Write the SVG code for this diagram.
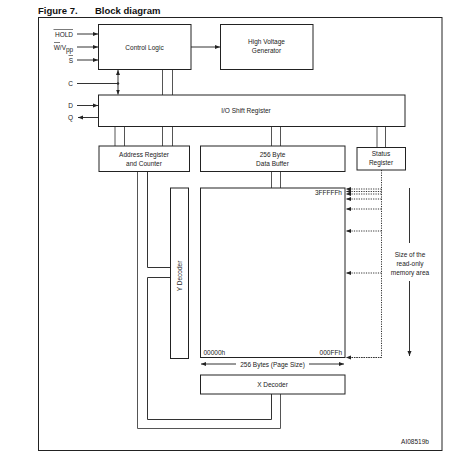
<svg xmlns="http://www.w3.org/2000/svg" width="465" height="462" viewBox="0 0 465 462">
<style>
.box{fill:#fff;stroke:#222;stroke-width:1}
.ln{fill:none;stroke:#333;stroke-width:1}
.gl{fill:none;stroke:#555;stroke-width:1}
.dot{fill:none;stroke:#333;stroke-width:1;stroke-dasharray:1.2 1.2}
.t{font-family:"Liberation Sans",Arial,sans-serif;font-size:6.5px;fill:#222}
.c{text-anchor:middle}
.e{text-anchor:end}
.title{font-family:"Liberation Sans",Arial,sans-serif;font-size:9.5px;font-weight:bold;fill:#111}
</style>
<defs>
<marker id="ah" viewBox="0 0 10 10" refX="10" refY="5" markerWidth="5" markerHeight="5" orient="auto-start-reverse" markerUnits="userSpaceOnUse">
<path d="M0,1 L10,5 L0,9 z" fill="#222"/>
</marker>
</defs>
<rect width="465" height="462" fill="#fff"/>
<text class="title" x="38" y="14">Figure 7.</text>
<text class="title" x="95" y="14">Block diagram</text>
<rect x="38.5" y="17.5" width="403.5" height="433" fill="none" stroke="#222" stroke-width="1"/>

<g id="connectors">
<line class="ln" x1="77" y1="34" x2="98" y2="34" marker-end="url(#ah)"/>
<line class="ln" x1="77" y1="47" x2="98" y2="47" marker-end="url(#ah)"/>
<line class="ln" x1="77" y1="60" x2="98" y2="60" marker-end="url(#ah)"/>
<line class="ln" x1="77" y1="83.5" x2="118" y2="83.5"/>
<circle cx="118" cy="83.5" r="1.2" fill="#222"/>
<line class="ln" x1="118" y1="70" x2="118" y2="94.5" marker-start="url(#ah)" marker-end="url(#ah)"/>
<line class="ln" x1="77" y1="105.5" x2="98" y2="105.5" marker-end="url(#ah)"/>
<line class="ln" x1="98" y1="117.5" x2="78" y2="117.5" marker-end="url(#ah)"/>
<line class="ln" x1="191" y1="47" x2="220" y2="47" marker-end="url(#ah)"/>
<line class="gl" x1="162.5" y1="69.5" x2="162.5" y2="95"/>
<line class="gl" x1="172.5" y1="69.5" x2="172.5" y2="95"/>
<line class="gl" x1="115" y1="126.5" x2="115" y2="146"/>
<line class="gl" x1="124.5" y1="126.5" x2="124.5" y2="146"/>
<line class="gl" x1="162.5" y1="126.5" x2="162.5" y2="146"/>
<line class="gl" x1="172.5" y1="126.5" x2="172.5" y2="146"/>
<line class="gl" x1="271.5" y1="126.5" x2="271.5" y2="146"/>
<line class="gl" x1="280.5" y1="126.5" x2="280.5" y2="146"/>
<line class="gl" x1="377" y1="126.5" x2="377" y2="147.5"/>
<line class="gl" x1="385.5" y1="126.5" x2="385.5" y2="147.5"/>
<line class="gl" x1="271.5" y1="171.5" x2="271.5" y2="188"/>
<line class="gl" x1="280.5" y1="171.5" x2="280.5" y2="188"/>
<polyline class="gl" points="137.5,171.5 137.5,428.5 280.5,428.5 280.5,394"/>
<polyline class="ln" points="147.5,171.5 147.5,267.5 170.5,267.5"/>
<polyline class="ln" points="170.5,277.5 147.5,277.5 147.5,419.5 271.5,419.5 271.5,394"/>
<polyline class="dot" points="381.5,170 381.5,357.5 346,357.5"/>
<line class="dot" x1="381.5" y1="189" x2="346" y2="189" marker-end="url(#ah)"/>
<line class="dot" x1="381.5" y1="191.5" x2="346" y2="191.5" marker-end="url(#ah)"/>
<line class="dot" x1="381.5" y1="194" x2="346" y2="194" marker-end="url(#ah)"/>
<line class="dot" x1="381.5" y1="199" x2="346" y2="199" marker-end="url(#ah)"/>
<line class="dot" x1="381.5" y1="209" x2="346" y2="209" marker-end="url(#ah)"/>
<line class="dot" x1="381.5" y1="231" x2="346" y2="231" marker-end="url(#ah)"/>
<line class="dot" x1="381.5" y1="273" x2="346" y2="273" marker-end="url(#ah)"/>
<line class="dot" x1="381.5" y1="357.5" x2="346" y2="357.5" marker-end="url(#ah)"/>
<line class="ln" x1="409.5" y1="188" x2="409.5" y2="243"/>
<line class="ln" x1="409.5" y1="281" x2="409.5" y2="356" marker-end="url(#ah)"/>
<line class="ln" x1="236" y1="364" x2="201" y2="364" marker-end="url(#ah)"/>
<line class="ln" x1="309" y1="364" x2="344" y2="364" marker-end="url(#ah)"/>
</g>

<g id="inputs">
<text class="t e" x="73" y="36.5">HOLD</text>
<line x1="53.5" y1="29.5" x2="73" y2="29.5" stroke="#222" stroke-width="0.6"/>
<text class="t e" x="66" y="49.5">W/V</text>
<line x1="54" y1="42.5" x2="60" y2="42.5" stroke="#222" stroke-width="0.6"/>
<text class="t" x="66" y="52" font-size="5">pp</text>
<text class="t e" x="73" y="62.5">S</text>
<line x1="68.5" y1="55.5" x2="73" y2="55.5" stroke="#222" stroke-width="0.6"/>
<text class="t e" x="73" y="86">C</text>
<text class="t e" x="73" y="108">D</text>
<text class="t e" x="73" y="120">Q</text>
</g>

<g id="control-logic">
<rect class="box" x="98.5" y="24.5" width="92.5" height="45"/>
<text class="t c" x="144.5" y="49.5">Control Logic</text>
</g>
<g id="hv-generator">
<rect class="box" x="220.5" y="24.5" width="92.5" height="45"/>
<text class="t c" x="266.5" y="44">High Voltage</text>
<text class="t c" x="266.5" y="52.5">Generator</text>
</g>
<g id="io-shift">
<rect class="box" x="98.5" y="95" width="306.5" height="31.5"/>
<text class="t c" x="246" y="113">I/O Shift Register</text>
</g>
<g id="address-register">
<rect class="box" x="99" y="146" width="90.5" height="25.5"/>
<text class="t c" x="144" y="156.5">Address Register</text>
<text class="t c" x="144" y="165.5">and Counter</text>
</g>
<g id="data-buffer">
<rect class="box" x="200.5" y="146" width="144.5" height="25.5"/>
<text class="t c" x="272.5" y="156.5">256 Byte</text>
<text class="t c" x="272.5" y="165.5">Data Buffer</text>
</g>
<g id="status-register">
<rect class="box" x="357" y="147.5" width="48.5" height="22.5"/>
<text class="t c" x="381" y="155.5">Status</text>
<text class="t c" x="381" y="164.5">Register</text>
</g>
<g id="memory">
<rect class="box" x="200.5" y="188" width="144.5" height="169.5"/>
<text class="t e" x="342" y="194.5">3FFFFFh</text>
<text class="t" x="203.5" y="355">00000h</text>
<text class="t e" x="342" y="355">000FFh</text>
</g>
<g id="y-decoder">
<rect class="box" x="170.5" y="188" width="18" height="170.5"/>
<text class="t c" transform="translate(181.5,276) rotate(-90)" x="0" y="0">Y Decoder</text>
</g>
<g id="x-decoder">
<rect class="box" x="200.5" y="375" width="144.5" height="19"/>
<text class="t c" x="272.5" y="386.5">X Decoder</text>
</g>
<g id="labels">
<text class="t c" x="272.5" y="366.5">256 Bytes (Page Size)</text>
<text class="t c" x="410" y="257">Size of the</text>
<text class="t c" x="410" y="266">read-only</text>
<text class="t c" x="410" y="275">memory area</text>
<text class="t c" x="415" y="444" font-size="5.5">AI08519b</text>
</g>
</svg>
